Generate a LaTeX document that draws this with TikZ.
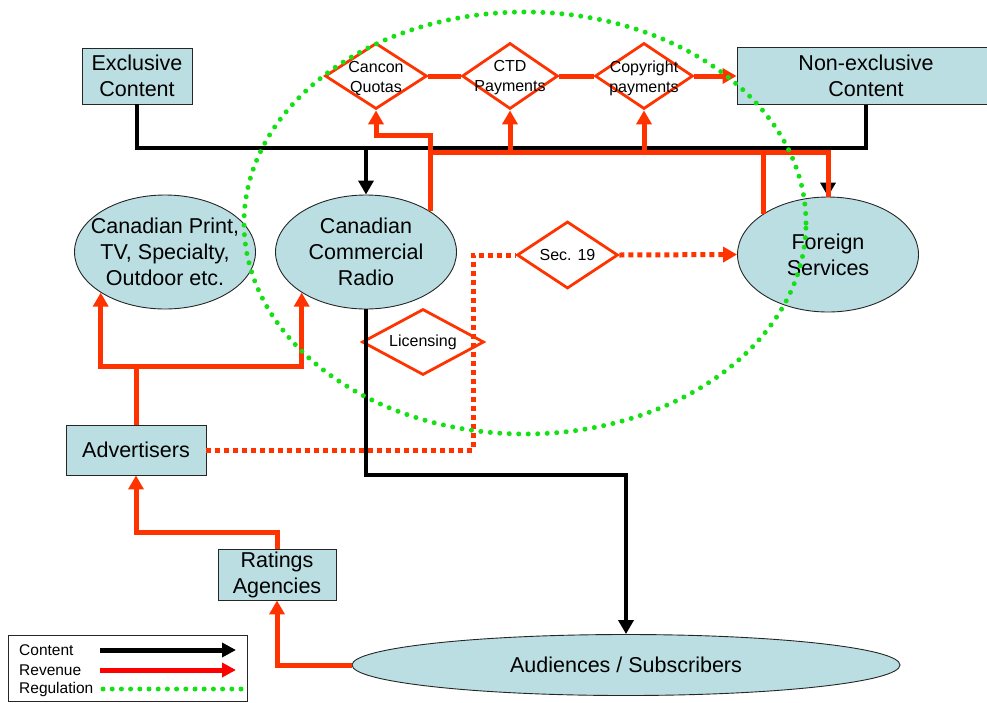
\documentclass[tikz,border=0pt]{standalone}
\usepackage{fontspec}
\setmainfont{Liberation Sans}
\usetikzlibrary{arrows.meta,shapes.geometric}
\definecolor{boxfill}{RGB}{186,222,226}
\definecolor{revred}{RGB}{255,51,0}
\definecolor{legred}{RGB}{255,0,0}
\definecolor{reggreen}{RGB}{20,225,20}
\tikzset{
  big/.style={font=\fontsize{21.5}{26}\selectfont, align=center},
  small/.style={font=\fontsize{16}{20}\selectfont, align=center},
  legtext/.style={font=\fontsize{15.5}{17}\selectfont, anchor=west, inner sep=0pt},
  boxnode/.style={draw=black!85, line width=0.9pt, fill=boxfill, rectangle, inner sep=0pt, big},
  ellnode/.style={draw=black!85, line width=0.9pt, fill=boxfill, ellipse, inner sep=0pt},
  diam/.style={diamond, draw=revred, line width=2.8pt, inner sep=0pt},
  content/.style={draw=black, line width=4.5pt},
  revenue/.style={draw=revred, line width=5pt},
  tip/.style={-{Triangle[length=14pt,width=15pt]}},
  regline/.style={draw=revred, line width=5pt, dash pattern=on 5pt off 4pt},
  regulation/.style={draw=reggreen, line width=5pt, line cap=round, dash pattern=on 0pt off 9.5pt},
}
\begin{document}
\begin{tikzpicture}[x=1pt,y=-1pt]
\useasboundingbox (0,0) rectangle (987,702);

% nodes
\node[boxnode, minimum width=110pt, minimum height=56pt] (exc) at (137,76) {Exclusive\\Content};
\node[boxnode, minimum width=258pt, minimum height=57pt] (nonexc) at (866,76) {Non-exclusive\\Content};
\node[diam, minimum width=102pt, minimum height=66pt, label={[small, yshift=-2pt]center:Cancon\\Quotas}] (cq) at (376,76) {};
\node[diam, minimum width=96pt, minimum height=66pt, label={[small, yshift=-2pt]center:CTD\\Payments}] (ctd) at (510,76) {};
\node[diam, minimum width=98pt, minimum height=66pt, label={[small, yshift=-2pt]center:Copyright\\payments}] (cr) at (644,76) {};
\node[ellnode, minimum width=181pt, minimum height=114pt, label={[big]center:Canadian Print,\\TV, Specialty,\\Outdoor etc.}] (print) at (165,252) {};
\node[ellnode, minimum width=181pt, minimum height=114pt, label={[big]center:Canadian\\Commercial\\Radio}] (radio) at (366,252) {};
\node[ellnode, minimum width=181pt, minimum height=115pt, label={[big]center:Foreign\\Services}] (fs) at (828,254.5) {};
\node[diam, minimum width=101pt, minimum height=67pt, label={[small]center:Sec. 19}] (s19) at (567.5,255) {};
\node[diam, minimum width=122pt, minimum height=66pt, label={[small]center:Licensing}] (lic) at (423,342) {};
\node[boxnode, minimum width=140pt, minimum height=50pt] (adv) at (136,450) {Advertisers};
\node[boxnode, minimum width=118pt, minimum height=51pt] (rat) at (277,574.5) {Ratings\\Agencies};
\node[ellnode, minimum width=548pt, minimum height=61pt, label={[big]center:Audiences / Subscribers}] (aud) at (626,665) {};

% junction coordinates
\coordinate (jb) at (500,148);
\coordinate (jc) at (400,135);
\coordinate (jd) at (500,152.5);
\coordinate (ja) at (500,475);
\coordinate (je) at (0,366);
\coordinate (jf) at (0,532);
\coordinate (jg) at (473,300);

% content (black)
\draw[content] (exc.south) |- (jb) -| (nonexc.south);
\draw[content,tip] (radio.north |- jb) -- (radio.north);
\draw[content,tip] (fs.north |- jb) -- (fs.north);
\draw[content,tip] (radio.south) |- (ja) -| (aud.north);

% revenue (red)
\draw[revenue,tip] (radio.north east) |- (jc) -| (cq.south);
\draw[revenue] (radio.north east |- jd) -| (fs.north);
\draw[revenue] (fs.north west) -- (fs.north west |- jd);
\draw[revenue,tip] (ctd.south |- jd) -- (ctd.south);
\draw[revenue,tip] (cr.south |- jd) -- (cr.south);
\draw[revenue] (cq.east) -- (ctd.west);
\draw[revenue] (ctd.east) -- (cr.west);
\draw[revenue,tip] (cr.east) -- (nonexc.west);
\draw[revenue,tip] (adv.north) -- (adv.north |- je) -| (print.south west);
\draw[revenue,tip] (adv.north |- je) -| (radio.south west);
\draw[revenue,tip] (rat.north) -- (rat.north |- jf) -| (adv.south);
\draw[revenue,tip] (aud.west) -| (rat.south);

% regulation (dotted red)
\draw[regline] (adv.east) -| (jg) |- (s19.west);
\draw[regline,tip] (s19.east) -- (fs.west);

% legend
\node[draw=black!85, line width=0.9pt, rectangle, minimum width=239pt, minimum height=66pt, inner sep=0pt] (legend) at (127.5,668) {};
\node[legtext] (lc) at (19,650) {Content};
\node[legtext] (lr) at (19,670) {Revenue};
\node[legtext] (lg) at (19,689) {Regulation};
\coordinate (lc1) at (100,650); \coordinate (lc2) at (236,650);
\coordinate (lr1) at (100,670); \coordinate (lr2) at (236,670);
\coordinate (lg1) at (103,689); \coordinate (lg2) at (242,689);
\draw[content, line width=5pt, -{Triangle[length=14pt,width=14pt]}] (lc1) -- (lc2);
\draw[draw=legred, line width=5pt, -{Triangle[length=14pt,width=14pt]}] (lr1) -- (lr2);
\draw[regulation, dash pattern=on 0pt off 9.2pt] (lg1) -- (lg2);

% regulation ellipse (green dotted)
\draw[regulation] (525,223) ellipse [x radius=281pt, y radius=211pt];
\end{tikzpicture}
\end{document}
